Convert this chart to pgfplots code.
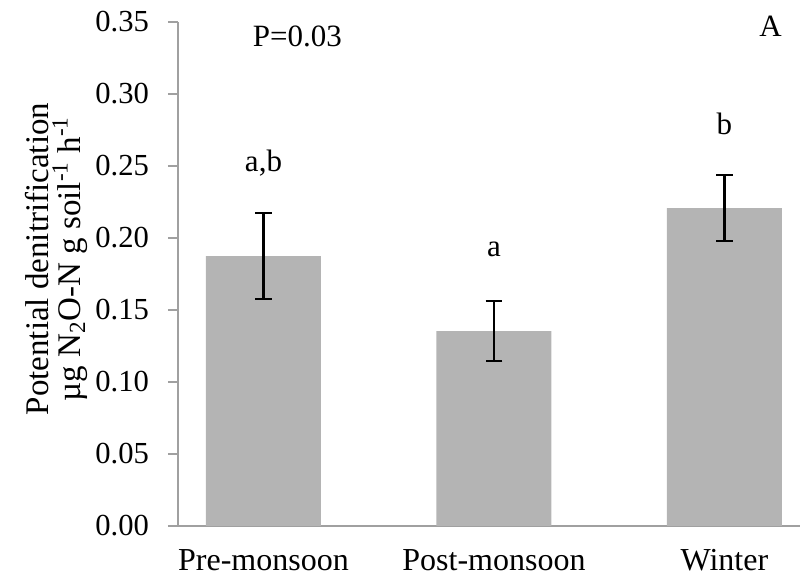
\documentclass[border=0pt]{standalone}
\usepackage{pgfplots}
\pgfplotsset{compat=1.18}
\usepackage{fontspec}
\setmainfont{Liberation Serif}
\definecolor{barGray}{HTML}{B4B4B4}
\definecolor{axGray}{HTML}{A0A0A0}
\begin{document}
\begin{tikzpicture}
\path[use as bounding box] (0,0) rectangle (400pt,289.5pt);
\node[rotate=90, align=center, font=\fontsize{16.5}{16}\selectfont] at (28pt,160pt)
  {Potential denitrification\\µg N\textsubscript{2}O-N g soil\textsuperscript{-1} h\textsuperscript{-1}};
\begin{axis}[
  at={(89pt,26.5pt)}, anchor=south west,
  scale only axis,
  width=311pt, height=252pt,
  xmin=-0.371, xmax=2.328,
  ymin=0, ymax=0.35,
  axis x line=bottom, axis y line=left,
  axis line style={-, draw=axGray, line width=1pt},
  ytick={0,0.05,...,0.35},
  y tick label style={/pgf/number format/fixed, /pgf/number format/fixed zerofill, /pgf/number format/precision=2, /pgf/number format/assume math mode=true, font=\fontsize{15.3}{18}\selectfont, xshift=-6pt},
  y tick style={draw=axGray, line width=1pt},
  tick align=outside,
  major tick length=5pt,
  xtick={0,1,2},
  xticklabels={Pre-monsoon, Post-monsoon, Winter},
  x tick style={draw=none},
  x tick label style={font=\fontsize{16}{19}\selectfont, anchor=base, inner ysep=1pt, yshift=-17.5pt},
  clip=false,
]
\addplot[ybar, bar width=57.5pt, fill=barGray, draw=none,
  error bars/.cd, y dir=both, y explicit,
  error bar style={black, line width=1.1pt},
  error mark options={rotate=90, mark size=4.2pt, black, line width=1.1pt}]
  coordinates {(0,0.1875) +- (0,0.030) (1,0.1354) +- (0,0.0207) (2,0.2208) +- (0,0.0231)};
\node[anchor=base, font=\fontsize{15.5}{18}\selectfont] at (axis cs:0,0.246) {a,b};
\node[anchor=base, font=\fontsize{15.5}{18}\selectfont] at (axis cs:1,0.187) {a};
\node[anchor=base, font=\fontsize{15.5}{18}\selectfont] at (axis cs:2,0.272) {b};
\node[anchor=base, font=\fontsize{15.5}{18}\selectfont] at (axis cs:0.147,0.333) {P=0.03};
\node[anchor=base, font=\fontsize{15.5}{18}\selectfont] at (axis cs:2.20,0.340) {A};
\end{axis}
\end{tikzpicture}
\end{document}
